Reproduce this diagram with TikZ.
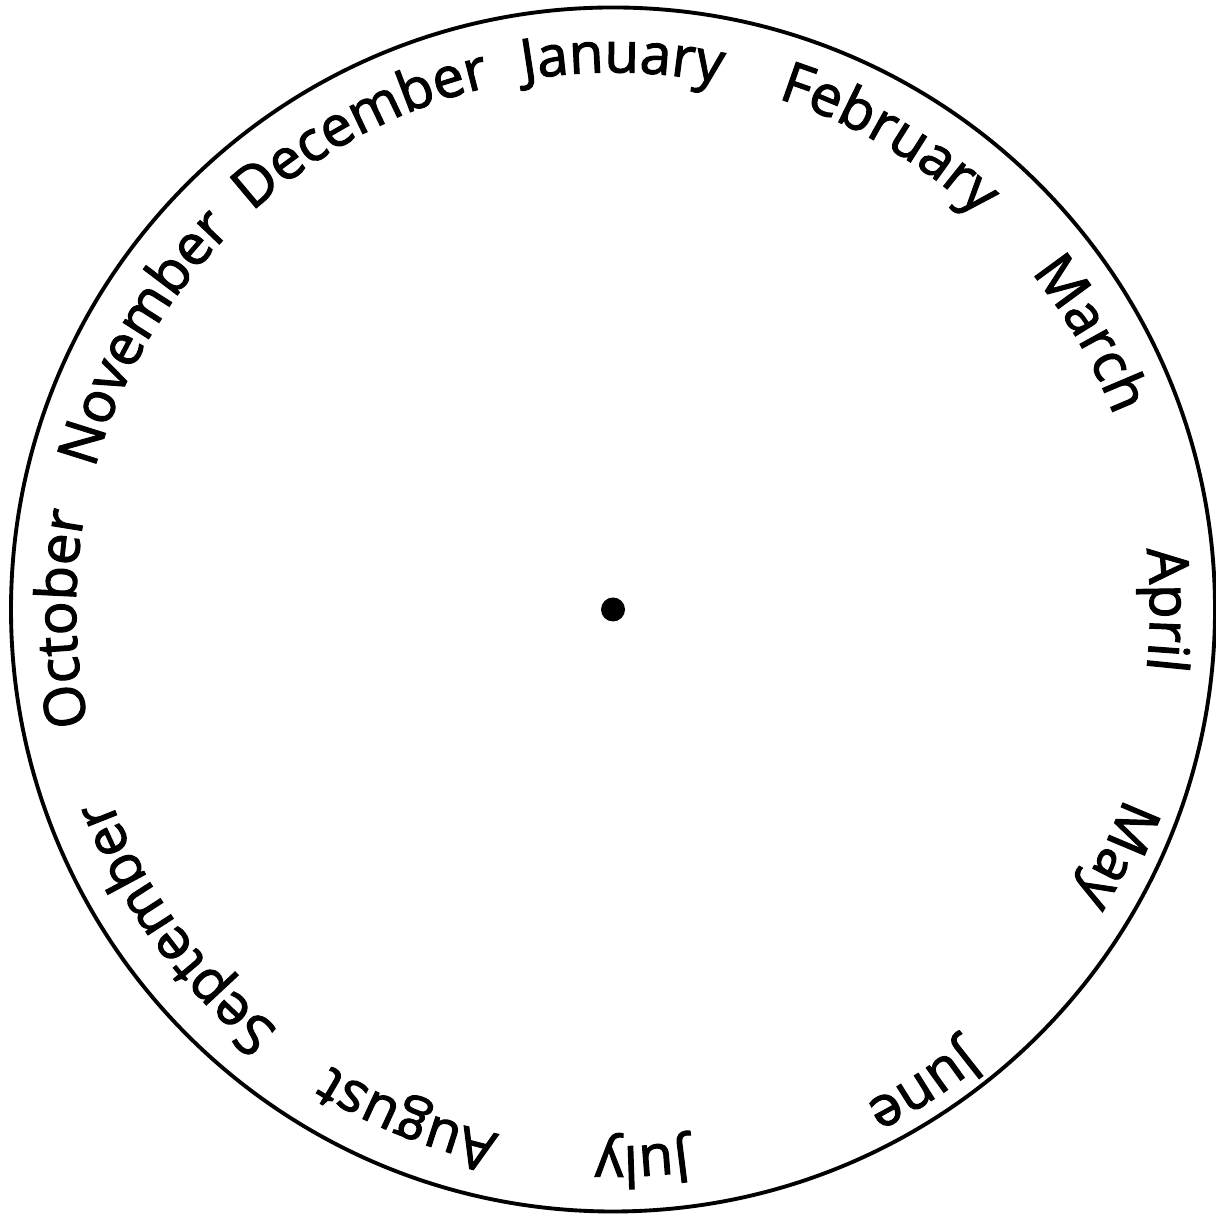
\documentclass[tikz,border=0pt]{standalone}
\usepackage{fontspec}
\newfontfamily\opensans{Open Sans}[FakeBold=2]
\newcommand\mfont{\opensans\fontsize{16pt}{19pt}\selectfont}
\usetikzlibrary{decorations.text}
\tikzset{
  rim/.style={line width=1.1pt},
  month/.style={decorate, decoration={text along path, text align=center, text={|\mfont|#1}}}
}
\begin{document}
\begin{tikzpicture}
\useasboundingbox (0,0) rectangle (12.16,12.16);
\coordinate (c) at (6.13,6.065);
\draw[rim] (c) circle[radius=6.02];
\node[circle, fill=black, inner sep=0pt, minimum size=0.24cm] (dot) at (c) {};
\foreach \ang/\name/\rad in {89/January/5.37, 59.6/February/5.37, 30/March/5.37, 0/April/5.37, -26/May/5.45, -57/June/5.55, -87/July/5.37, -112/August/5.37, -144/September/5.37, -179/October/5.37, -210/November/5.37, -242.3/December/5.37}{
  \path[month=\name] ([shift={(c)}]\ang+60:\rad) arc[start angle=\ang+60, end angle=\ang-60, radius=\rad];
}
\end{tikzpicture}
\end{document}
